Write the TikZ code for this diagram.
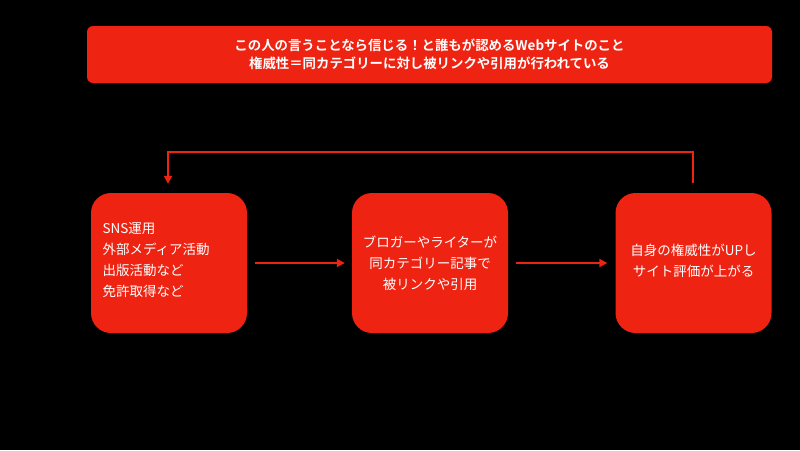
\documentclass[tikz,border=0pt]{standalone}
\usepackage{fontspec}
\setmainfont{Noto Sans CJK JP}
\newfontfamily\jpbold{Noto Sans CJK JP Bold}
\usetikzlibrary{arrows.meta}
\definecolor{myred}{HTML}{EE2312}
\tikzset{
  box/.style={fill=myred, rounded corners=20pt, minimum width=156pt, minimum height=140pt, text=white, font=\fontsize{13.5}{21}\selectfont},
  conn/.style={draw=myred, line width=1.8pt, -{Triangle[length=8pt,width=8pt]}}
}
\begin{document}
\begin{tikzpicture}[x=1pt,y=-1pt]
\fill[black] (0,0) rectangle (800,450);
\useasboundingbox (0,0) rectangle (800,450);
\node[fill=myred, rounded corners=6pt, minimum width=685pt, minimum height=57pt, text=white, align=center, font=\jpbold\fontsize{13.4}{17.5}\selectfont] (banner) at (429.5,54.5)
  {この人の言うことなら信じる！と誰もが認めるWebサイトのこと\\権威性＝同カテゴリーに対し被リンクや引用が行われている};
\node[box] (b1) at (169,263) {};
\node[text=white, align=left, anchor=west, font=\fontsize{13.5}{21}\selectfont] (t1) at (99,260) {SNS運用\\外部メディア活動\\出版活動など\\免許取得など};
\node[box, align=center] (b2) at (430,263) {ブロガーやライターが\\同カテゴリー記事で\\被リンクや引用};
\node[box, align=center] (b3) at (693.5,263) {};
\node[text=white, align=center, font=\fontsize{13.5}{21}\selectfont] (t3) at (693.5,260.5) {自身の権威性がUPし\\サイト評価が上がる};
\draw[conn] ([xshift=8pt]b1.east) -- ([xshift=-7pt]b2.west);
\draw[conn] ([xshift=8pt]b2.east) -- ([xshift=-8pt]b3.west);
\coordinate (c1) at (693,152);
\coordinate (c2) at (168,152);
\draw[conn] ([xshift=-0.5pt,yshift=10pt]b3.north) -- (c1) -- (c2) -- ([xshift=-1pt,yshift=9pt]b1.north);
\end{tikzpicture}
\end{document}
